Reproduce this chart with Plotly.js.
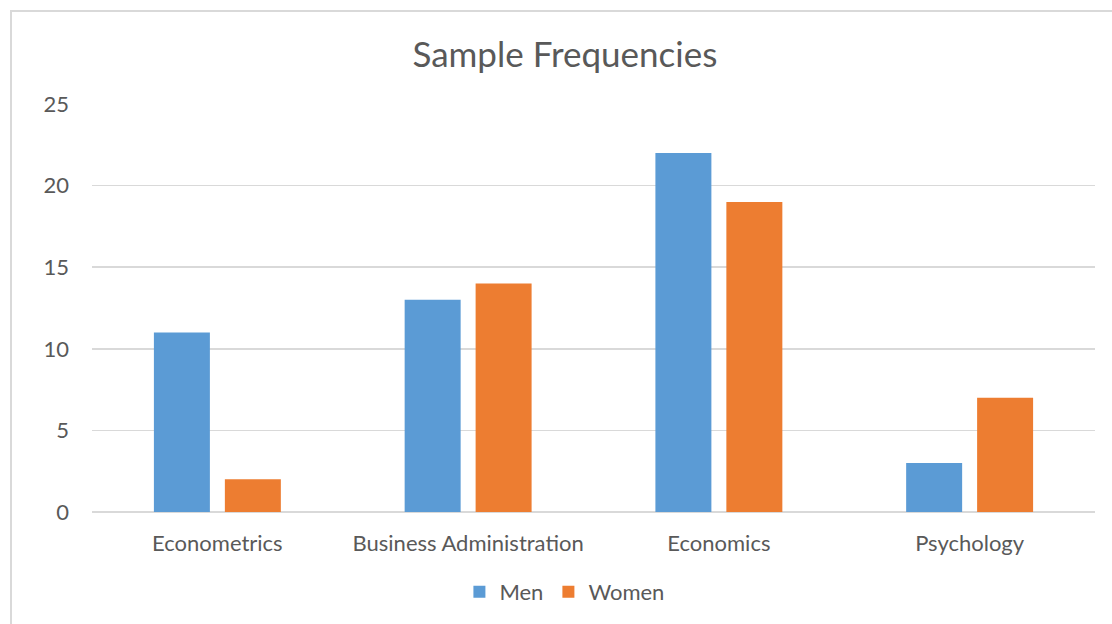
<!DOCTYPE html>
<html>
<head>
<meta charset="utf-8">
<script src="https://cdn.plot.ly/plotly-3.0.1.min.js"></script>
<style>
html,body{margin:0;padding:0;background:#fff;}
#wrap{position:relative;width:1112px;height:624px;overflow:hidden;}
#chart{position:absolute;left:0;top:0;width:1112px;height:624px;}
#frame{position:absolute;left:10px;top:10px;width:1120px;height:640px;border:2px solid #d9d9d9;box-sizing:border-box;pointer-events:none;}
</style>
</head>
<body>
<div id="wrap"><div id="chart"></div><div id="frame"></div></div>
<script>
const categories = ["Econometrics", "Business Administration", "Economics", "Psychology"];
const menValues = [11, 13, 22, 3];
const womenValues = [2, 14, 19, 7];
const yTicks = [0, 5, 10, 15, 20, 25];

const fontFam = "Lato, 'Open Sans', sans-serif";
const textCol = "#595959";

const traces = [
  {type: "bar", name: "Men", x: categories, y: menValues, marker: {color: "#5b9bd5"}, hoverinfo: "x+y+name"},
  {type: "bar", name: "Women", x: categories, y: womenValues, marker: {color: "#ed7d31"}, hoverinfo: "x+y+name"}
];

const layout = {
  width: 1112, height: 624,
  margin: {l: 92, r: 17, t: 104, b: 111},
  paper_bgcolor: "#fff", plot_bgcolor: "#fff",
  title: {text: "Sample Frequencies", font: {family: fontFam, size: 35, color: textCol}, x: 0.508, xanchor: "center", y: 0.912, yanchor: "middle"},
  barmode: "group", bargap: 0.434, bargroupgap: 0.211,
  font: {family: fontFam, size: 22, color: textCol},
  xaxis: {type: "category", range: [-0.5, 3.5], showgrid: false, zeroline: false, showline: false, ticks: "", ticklabelstandoff: 16, tickfont: {family: fontFam, size: 22, color: textCol}},
  yaxis: {range: [0, 25], tickvals: yTicks, ticktext: yTicks.map(String), showgrid: true, gridcolor: "#d9d9d9", gridwidth: 1.5, zeroline: true, zerolinecolor: "#d9d9d9", zerolinewidth: 1.5, showline: false, ticks: "", ticklabelstandoff: 22, tickfont: {family: fontFam, size: 22, color: textCol}},
  showlegend: true,
  legend: {orientation: "h", x: 0.471, xanchor: "center", y: -0.193, yanchor: "middle", font: {family: fontFam, size: 22, color: textCol}, itemwidth: 30, tracegroupgap: 0}
};

Plotly.newPlot("chart", traces, layout, {displayModeBar: false, staticPlot: true});
</script>
</body>
</html>
